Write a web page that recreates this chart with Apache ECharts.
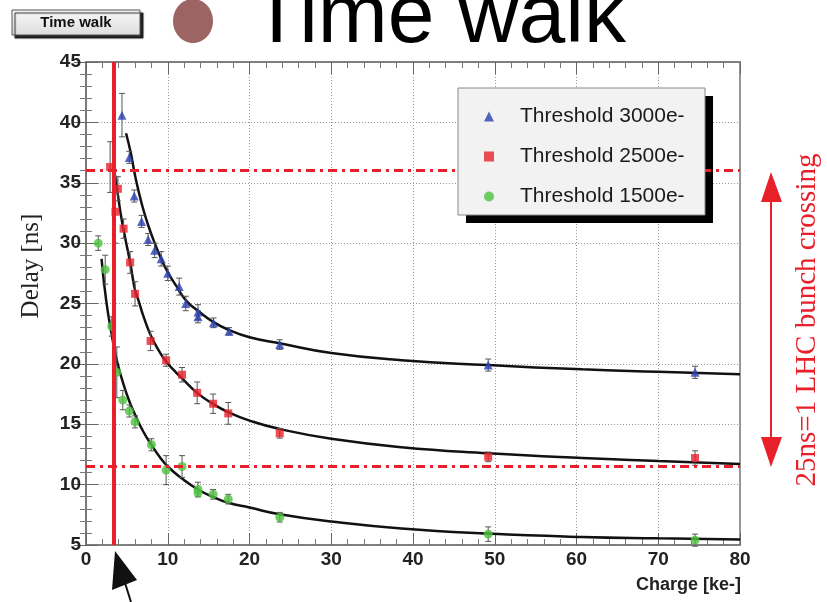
<!DOCTYPE html>
<html>
<head>
<meta charset="utf-8">
<script src="https://cdn.jsdelivr.net/npm/echarts@6/dist/echarts.min.js"></script>
<style>
  html, body { margin: 0; padding: 0; background: #fff; }
  #chart { width: 827px; height: 602px; }
</style>
</head>
<body>
<div id="chart"></div>
<script>
// measured points (x = charge [ke-], y = delay [ns], err = half error bar)
const blueX   = [4.4, 5.3, 5.9, 6.8, 7.6, 8.4, 9.2, 10.0, 11.4, 12.2, 13.7, 13.7, 15.6, 17.5, 23.7, 49.2, 74.5]
const blueY   = [40.6, 37.1, 33.9, 31.8, 30.3, 29.4, 28.7, 27.5, 26.4, 25.0, 24.3, 23.9, 23.4, 22.7, 21.6, 19.9, 19.3]
const blueErr = [1.8, 0.5, 0.5, 0.5, 0.5, 0.6, 0.6, 0.6, 0.7, 0.6, 0.6, 0.5, 0.4, 0.3, 0.4, 0.5, 0.5]

const redX   = [2.95, 3.6, 3.9, 4.6, 5.4, 6.0, 7.9, 9.8, 11.75, 13.6, 15.55, 17.4, 23.7, 49.2, 74.5]
const redY   = [36.3, 32.6, 34.5, 31.2, 28.4, 25.8, 21.9, 20.3, 19.1, 17.6, 16.7, 15.9, 14.25, 12.3, 12.2]
const redErr = [2.1, 2.6, 1.0, 0.8, 0.9, 1.0, 0.8, 0.5, 0.6, 0.9, 0.8, 0.9, 0.4, 0.4, 0.6]

const greenX   = [1.5, 2.35, 3.15, 3.77, 4.5, 5.3, 6.0, 8.0, 9.8, 11.75, 13.7, 13.7, 15.55, 17.4, 23.7, 49.2, 74.5]
const greenY   = [30.0, 27.8, 23.1, 19.3, 17.0, 16.1, 15.2, 13.3, 11.2, 11.5, 9.6, 9.3, 9.2, 8.8, 7.3, 5.9, 5.4]
const greenErr = [0.6, 1.2, 0.8, 2.1, 0.8, 0.5, 0.5, 0.5, 1.2, 0.9, 0.6, 0.3, 0.4, 0.4, 0.4, 0.6, 0.5]

// fitted curves
const blueFitX = [4.9, 5.5, 6.0, 6.8, 7.6, 8.4, 9.2, 10, 11, 12.3, 13.7, 15.5, 17.5, 20, 23.7, 30, 38.6, 49.2, 60.7, 70, 80]
const blueFitY = [39.1, 37.4, 35.6, 33.3, 31.5, 30.0, 28.7, 27.6, 26.5, 25.2, 24.4, 23.5, 22.8, 22.2, 21.7, 20.9, 20.3, 19.9, 19.55, 19.35, 19.15]

const redFitX = [3.56, 3.9, 4.3, 4.8, 5.4, 6.0, 6.4, 7.0, 7.9, 9.0, 9.8, 11.0, 11.75, 13.6, 15.5, 17.4, 20, 23.7, 30, 38.6, 49.2, 60.7, 70, 80]
const redFitY = [35.6, 34.0, 32.2, 30.4, 28.4, 26.1, 25.3, 24.0, 22.4, 21.0, 20.2, 19.3, 18.8, 17.6, 16.7, 16.0, 15.3, 14.6, 13.8, 13.1, 12.6, 12.2, 11.95, 11.7]

const greenFitX = [1.9, 2.46, 3.1, 3.77, 4.5, 5.3, 6.0, 7.0, 8.0, 9.0, 10, 11.75, 13.7, 15.5, 17.4, 20, 23.7, 30, 38.6, 49.2, 60.7, 70, 80]
const greenFitY = [28.7, 25.3, 22.6, 20.3, 18.5, 16.9, 15.8, 14.4, 13.3, 12.3, 11.5, 10.5, 9.6, 9.0, 8.5, 8.1, 7.55, 6.95, 6.37, 5.95, 5.67, 5.55, 5.45]

const seriesNames = ['Threshold 3000e-', 'Threshold 2500e-', 'Threshold 1500e-']
const xTicks = { min: 0, max: 80, interval: 10 }
const yTicks = { min: 5, max: 45, interval: 5 }
const chipCut = 3.4       // red vertical line
const bunchLines = [36, 11.5]  // 25 ns window

const zip = (...cols) => cols[0].map((_, i) => cols.map(c => c[i]))

const chart = echarts.init(document.getElementById('chart'))

const labelFont = "'Liberation Sans Narrow', 'Liberation Sans', Arial, sans-serif"

function errorBars(params, api) {
  const x = api.value(0), y = api.value(1), e = api.value(2)
  const top = api.coord([x, y + e])
  const bot = api.coord([x, y - e])
  const w = 3
  const st = { stroke: '#555', lineWidth: 1 }
  return {
    type: 'group',
    children: [
      { type: 'line', shape: { x1: top[0], y1: top[1], x2: bot[0], y2: bot[1] }, style: st },
      { type: 'line', shape: { x1: top[0] - w, y1: top[1], x2: top[0] + w, y2: top[1] }, style: st },
      { type: 'line', shape: { x1: bot[0] - w, y1: bot[1], x2: bot[0] + w, y2: bot[1] }, style: st }
    ]
  }
}

const colors = ['#2a3eb0', '#e8202a', '#4cc23e']
const symbols = ['triangle', 'rect', 'circle']
const points = [zip(blueX, blueY, blueErr), zip(redX, redY, redErr), zip(greenX, greenY, greenErr)]
const fits = [zip(blueFitX, blueFitY), zip(redFitX, redFitY), zip(greenFitX, greenFitY)]

const series = []
fits.forEach((d) => {
  series.push({
    type: 'line', data: d, smooth: true, showSymbol: false, silent: true, z: 2,
    lineStyle: { color: '#111', width: 2.5 }
  })
})
points.forEach((d) => {
  series.push({
    type: 'custom', data: d, renderItem: errorBars, z: 3, silent: true,
    encode: { x: 0, y: 1 }
  })
})
points.forEach((d, i) => {
  series.push({
    name: seriesNames[i], type: 'scatter', data: d.map(p => [p[0], p[1]]),
    symbol: symbols[i], symbolSize: i === 1 ? 8 : 9, z: 4,
    itemStyle: { color: colors[i] }
  })
})
// reference lines
series.push({
  type: 'line', data: [], silent: true,
  markLine: {
    symbol: 'none', silent: true, label: { show: false },
    data: [
      { xAxis: chipCut, lineStyle: { color: '#e8202a', width: 4, type: 'solid' } },
      ...bunchLines.map(v => ({ yAxis: v, lineStyle: { color: '#e8202a', width: 3, type: [9, 5, 3, 5] } }))
    ]
  }
})

const axisCommon = {
  axisLine: { show: true, lineStyle: { color: '#777', width: 1.5 } },
  axisTick: { show: true, inside: true, length: 12, lineStyle: { color: '#666' } },
  minorTick: { show: true, splitNumber: 5, length: 6, lineStyle: { color: '#777' } },
  splitLine: { show: true, lineStyle: { color: '#999', type: [1, 2], width: 1 } }
}

chart.setOption({
  animation: false,
  backgroundColor: '#fff',
  grid: { left: 86, top: 62, width: 654, height: 483, show: true, borderColor: '#777', borderWidth: 1.5 },
  legend: {
    data: seriesNames, orient: 'vertical', left: 458, top: 90, z: 7,
    padding: [16, 25, 11, 26], itemGap: 19, itemWidth: 10, itemHeight: 10,
    textStyle: { fontSize: 21, color: '#1a1a1a', fontFamily: "'Liberation Sans', Arial, sans-serif", padding: [0, 0, 0, 21] }
  },
  xAxis: [
    Object.assign({}, axisCommon, {
      type: 'value', min: xTicks.min, max: xTicks.max, interval: xTicks.interval,
      axisLabel: { fontSize: 19, fontWeight: 'bold', color: '#222', fontFamily: labelFont, margin: 5 }
    }),
    Object.assign({}, axisCommon, {
      type: 'value', position: 'top', min: xTicks.min, max: xTicks.max, interval: xTicks.interval,
      axisLabel: { show: false }, splitLine: { show: false }
    })
  ],
  yAxis: [
    Object.assign({}, axisCommon, {
      type: 'value', min: yTicks.min, max: yTicks.max, interval: yTicks.interval,
      axisLabel: { fontSize: 19, fontWeight: 'bold', color: '#222', fontFamily: labelFont, margin: 5 }
    }),
    Object.assign({}, axisCommon, {
      type: 'value', position: 'right', min: yTicks.min, max: yTicks.max, interval: yTicks.interval,
      axisLabel: { show: false }, splitLine: { show: false }
    })
  ],
  series: series,
  graphic: [
    // slide header
    {
      type: 'rect', shape: { x: 12, y: 10, width: 128, height: 25 },
      style: {
        fill: new echarts.graphic.LinearGradient(0, 0, 0, 1, [
          { offset: 0, color: '#fafafa' }, { offset: 1, color: '#dcdcdc' }
        ]),
        stroke: '#555', lineWidth: 1,
        shadowColor: '#222', shadowBlur: 1, shadowOffsetX: 3, shadowOffsetY: 3
      }
    },
    {
      type: 'text', x: 76, y: 23,
      style: { text: 'Time walk', fill: '#111', font: "bold 15px " + labelFont, align: 'center', verticalAlign: 'middle' }
    },
    { type: 'ellipse', shape: { cx: 193, cy: 21, rx: 20, ry: 22 }, style: { fill: '#9c6462' } },
    {
      type: 'text', x: 251, y: 61,
      style: { text: 'Time walk', fill: '#000', font: "84px 'Liberation Sans', Arial, sans-serif", align: 'left', verticalAlign: 'bottom' }
    },
    // legend box with hard shadow
    { type: 'rect', z: 5, shape: { x: 466, y: 96, width: 247, height: 127 }, style: { fill: '#000' } },
    { type: 'rect', z: 6, shape: { x: 458, y: 88, width: 247, height: 127 }, style: { fill: '#f2f2f2', stroke: '#888', lineWidth: 1 } },
    // axis titles
    {
      type: 'text', x: 31, y: 266, rotation: Math.PI / 2,
      style: { text: 'Delay [ns]', fill: '#222', font: "25px 'Liberation Serif', 'Times New Roman', serif", align: 'center', verticalAlign: 'middle' }
    },
    {
      type: 'text', x: 741, y: 585,
      style: { text: 'Charge [ke-]', fill: '#222', font: "bold 18px " + labelFont, align: 'right', verticalAlign: 'middle' }
    },
    // bunch-crossing arrow
    { type: 'line', shape: { x1: 771, y1: 195, x2: 771, y2: 445 }, style: { stroke: '#e8202a', lineWidth: 2 } },
    { type: 'polygon', shape: { points: [[771, 172], [761, 202], [782, 202]] }, style: { fill: '#e8202a' } },
    { type: 'polygon', shape: { points: [[771, 467], [761, 437], [782, 437]] }, style: { fill: '#e8202a' } },
    {
      type: 'text', x: 807, y: 320, rotation: Math.PI / 2,
      style: { text: '25ns=1 LHC bunch crossing', fill: '#e8202a', font: "29px 'Liberation Serif', 'Times New Roman', serif", align: 'center', verticalAlign: 'middle' }
    },
    // black pointer arrow
    { type: 'polygon', shape: { points: [[115, 551], [112, 590], [137, 580]] }, style: { fill: '#111' } },
    { type: 'line', shape: { x1: 125, y1: 583, x2: 131, y2: 602 }, style: { stroke: '#111', lineWidth: 2 } }
  ]
})
</script>
</body>
</html>
